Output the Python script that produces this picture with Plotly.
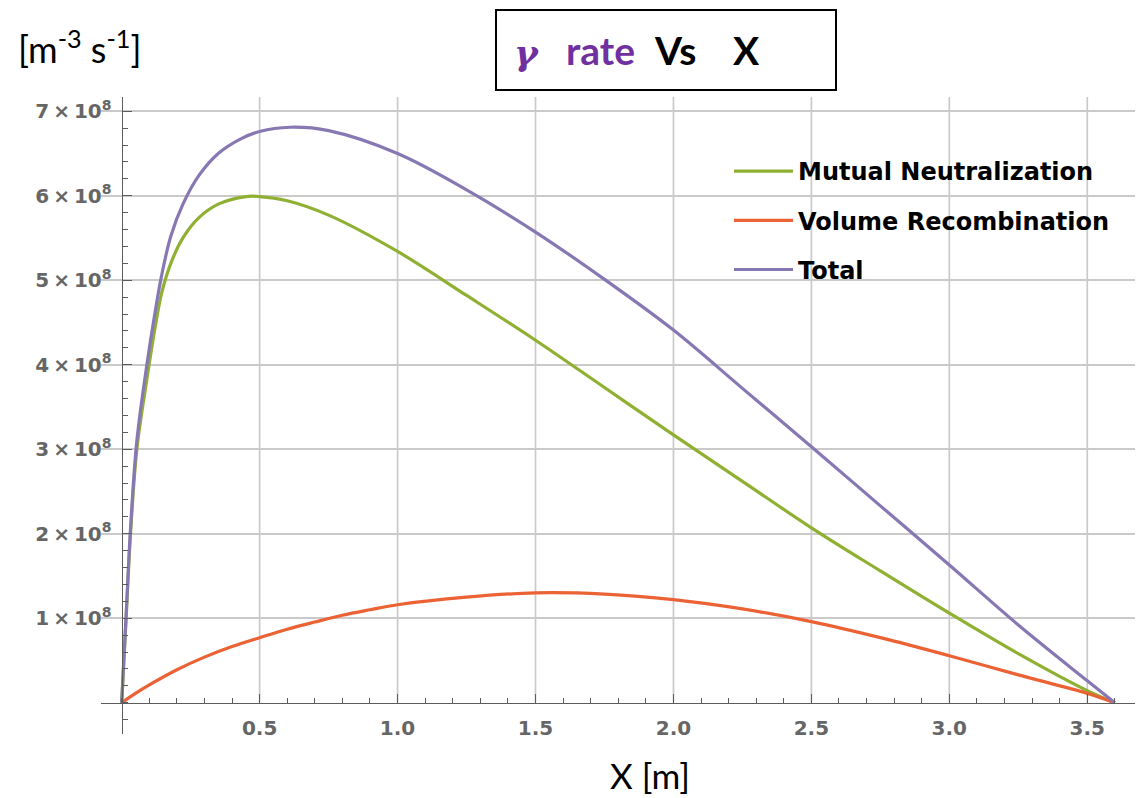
import plotly.graph_objects as go

# ---- data: emission rates along X (units of 1e8 m^-3 s^-1) ----
X_MN = [0, 0.008, 0.016, 0.032, 0.055, 0.09, 0.12, 0.145, 0.178, 0.222, 0.28, 0.35,
        0.45, 0.5, 0.6, 0.75, 1.0, 1.25, 1.5, 1.75, 2.0, 2.25, 2.5, 2.75, 3.0, 3.25, 3.5, 3.6]
MUTUAL_NEUTRALIZATION = [0, 0.5, 1.0, 2.0, 3.0, 3.8, 4.42, 4.85, 5.2, 5.5, 5.74, 5.9,
                         5.99, 5.99, 5.94, 5.77, 5.34, 4.82, 4.29, 3.73, 3.17, 2.62, 2.07,
                         1.56, 1.06, 0.58, 0.142, 0]

X_VR = [0, 0.05, 0.1, 0.2, 0.3, 0.4, 0.5, 0.6, 0.7, 0.8, 0.9, 1.0, 1.25, 1.5, 1.75,
        2.0, 2.25, 2.5, 2.75, 3.0, 3.25, 3.5, 3.6]
VOLUME_RECOMBINATION = [0, 0.11, 0.21, 0.39, 0.54, 0.665, 0.77, 0.87, 0.955, 1.035,
                        1.10, 1.16, 1.25, 1.30, 1.285, 1.22, 1.11, 0.96, 0.77, 0.556,
                        0.33, 0.111, 0]

X_TOT = [0, 0.008, 0.016, 0.032, 0.055, 0.09, 0.12, 0.145, 0.178, 0.222, 0.28, 0.35,
         0.43, 0.5, 0.61, 0.75, 1.0, 1.25, 1.5, 1.75, 2.0, 2.25, 2.5, 2.75, 3.0, 3.25, 3.5, 3.6]
TOTAL = [0, 0.52, 1.03, 2.06, 3.1, 3.97, 4.6, 5.06, 5.52, 5.9, 6.24, 6.5, 6.67, 6.76,
         6.81, 6.77, 6.50, 6.07, 5.57, 5.01, 4.41, 3.72, 3.03, 2.33, 1.63, 0.92, 0.26, 0]

SCALE = 1e8

X_TICKS = [0.5, 1.0, 1.5, 2.0, 2.5, 3.0, 3.5]
X_TICK_TEXT = ["0.5", "1.0", "1.5", "2.0", "2.5", "3.0", "3.5"]
Y_TICK_MANTISSA = [1, 2, 3, 4, 5, 6, 7]

X_RANGE = [-0.075, 3.673]
Y_RANGE = [-0.370e8, 7.168e8]

GREEN = "#8FB032"
ORANGE = "#EB6235"
PURPLE = "#8778B3"
TITLE_PURPLE = "#7030A0"
AXIS_GREY = "#5c5c5c"
LABEL_GREY = "#666666"
GRID_GREY = "#cacaca"

# figure geometry
W, H = 1145, 798
ML, MR, MT, MB = 101, 10, 97, 64
PW, PH = W - ML - MR, H - MT - MB


def px_x(p):
    return (p - ML) / PW


def px_y(p):
    return (H - MB - p) / PH


fig = go.Figure()

series = [
    ("Mutual Neutralization", X_MN, MUTUAL_NEUTRALIZATION, GREEN),
    ("Volume Recombination", X_VR, VOLUME_RECOMBINATION, ORANGE),
    ("Total", X_TOT, TOTAL, PURPLE),
]
for name, xs, ys, color in series:
    fig.add_trace(go.Scatter(
        x=xs, y=[v * SCALE for v in ys], mode="lines", name=name,
        legendgroup=name,
        line=dict(color=color, width=3.2, shape="spline", smoothing=1.0),
    ))

tick_font = dict(family="DejaVu Sans", size=20, color=LABEL_GREY, weight="bold")

# axes cross at the origin
x_pos = (0 - Y_RANGE[0]) / (Y_RANGE[1] - Y_RANGE[0])
y_pos = (0 - X_RANGE[0]) / (X_RANGE[1] - X_RANGE[0])

fig.update_xaxes(
    range=X_RANGE, anchor="free", position=x_pos,
    showline=True, linecolor=AXIS_GREY, linewidth=1.3,
    tickmode="array", tickvals=X_TICKS, ticktext=X_TICK_TEXT,
    ticks="inside", ticklen=9, tickwidth=1.2, tickcolor=AXIS_GREY,
    tickfont=tick_font, ticklabelstandoff=7,
    minor=dict(tickmode="linear", tick0=0, dtick=0.1, ticks="inside",
               ticklen=5, tickwidth=1, tickcolor=AXIS_GREY, showgrid=False),
    showgrid=False, zeroline=False,
)

fig.update_yaxes(
    range=Y_RANGE, anchor="free", position=y_pos,
    showline=True, linecolor=AXIS_GREY, linewidth=1.3,
    tickmode="array", tickvals=[m * SCALE for m in Y_TICK_MANTISSA],
    ticktext=[f"{m}\u2009×\u200910<sup>8</sup>" for m in Y_TICK_MANTISSA],
    ticks="inside", ticklen=9, tickwidth=1.2, tickcolor=AXIS_GREY,
    tickfont=tick_font, ticklabelstandoff=6,
    minor=dict(tickmode="linear", tick0=0, dtick=0.2 * SCALE, ticks="inside",
               ticklen=5, tickwidth=1, tickcolor=AXIS_GREY, showgrid=False),
    showgrid=True, gridcolor=GRID_GREY, gridwidth=1.7, zeroline=False,
)

# vertical grid lines run from the x axis up to the top of the frame
for t in X_TICKS:
    fig.add_shape(type="line", xref="x", yref="y", x0=t, x1=t, y0=0, y1=Y_RANGE[1],
                  line=dict(color=GRID_GREY, width=1.7), layer="below")

# title box
fig.add_shape(type="rect", xref="paper", yref="paper",
              x0=px_x(496), x1=px_x(836), y0=px_y(90), y1=px_y(10),
              line=dict(color="black", width=2), fillcolor="white", layer="above")

title_y = px_y(50)
fig.add_annotation(text="<i>γ</i>", xref="paper", yref="paper", x=px_x(527), y=px_y(52),
                   showarrow=False, xanchor="center", yanchor="middle",
                   font=dict(family="DejaVu Serif", size=36, color=TITLE_PURPLE, weight="bold"))
fig.add_annotation(text="rate", xref="paper", yref="paper", x=px_x(564), y=title_y,
                   showarrow=False, xanchor="left", yanchor="middle",
                   font=dict(family="Lato", size=39, color=TITLE_PURPLE, weight="bold"))
fig.add_annotation(text="Vs", xref="paper", yref="paper", x=px_x(652), y=title_y,
                   showarrow=False, xanchor="left", yanchor="middle",
                   font=dict(family="Lato", size=39, color="black", weight="bold"))
fig.add_annotation(text="X", xref="paper", yref="paper", x=px_x(731), y=title_y,
                   showarrow=False, xanchor="left", yanchor="middle",
                   font=dict(family="Lato", size=39, color="black", weight="bold"))

# axis labels
fig.add_annotation(text="[m<sup>-3</sup> s<sup>-1</sup>]", xref="paper", yref="paper",
                   x=px_x(16), y=px_y(47), showarrow=False, xanchor="left", yanchor="middle",
                   font=dict(family="Lato", size=36, color="black"))
fig.add_annotation(text="X [m]", xref="paper", yref="paper",
                   x=px_x(650), y=px_y(775), showarrow=False, xanchor="center", yanchor="middle",
                   font=dict(family="Lato", size=35, color="black"))

fig.update_layout(
    width=W, height=H,
    margin=dict(l=ML, r=MR, t=MT, b=MB),
    plot_bgcolor="white", paper_bgcolor="white",
    showlegend=True,
    legend=dict(x=px_x(729), y=px_y(149), xanchor="left", yanchor="top",
                bgcolor="rgba(0,0,0,0)", borderwidth=0, tracegroupgap=15,
                itemwidth=59,
                font=dict(family="DejaVu Sans", size=24, color="black", weight="bold")),
)

fig.write_html("out.html")
